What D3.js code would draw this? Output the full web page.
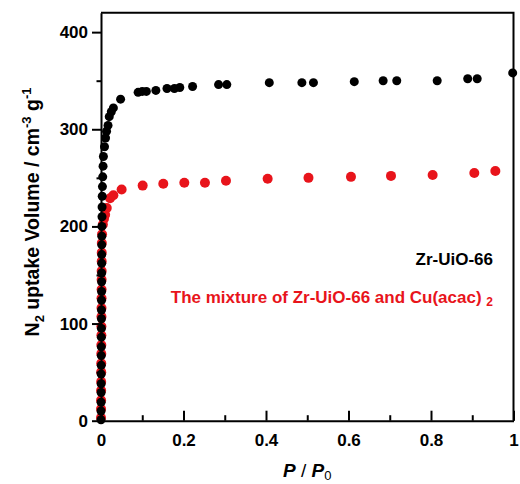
<!DOCTYPE html>
<html>
<head>
<meta charset="utf-8">
<script src="https://cdn.jsdelivr.net/npm/d3@7"></script>
<style>
  html, body { margin: 0; padding: 0; background: #fff; }
  svg text { font-family: "Liberation Sans", Arial, sans-serif; font-weight: bold; }
</style>
</head>
<body>
<svg id="chart" width="520" height="484"></svg>
<script>
// N2 adsorption isotherms (P/P0, uptake in cm^3 g^-1)
const zrUio66X = [0.0000, 0.0001, 0.0002, 0.0003, 0.0004, 0.0005, 0.0006, 0.0007, 0.0008, 0.0009,
  0.0010, 0.0011, 0.0012, 0.0013, 0.0014, 0.0015, 0.0016, 0.0017, 0.0018, 0.0019,
  0.0020, 0.0022, 0.0024, 0.0026, 0.0030, 0.0035, 0.0042, 0.0050, 0.0058, 0.0085,
  0.0110, 0.0135, 0.0170, 0.0200, 0.0250, 0.0300, 0.0475, 0.090, 0.100, 0.110,
  0.133, 0.160, 0.178, 0.191, 0.222, 0.285, 0.305, 0.408, 0.487, 0.515,
  0.614, 0.684, 0.717, 0.815, 0.889, 0.912, 0.998];
const zrUio66Y = [1, 10, 19, 29, 38, 48, 57, 67, 76, 86,
  95, 105, 114, 124, 133, 143, 152, 162, 171, 181,
  190, 200, 210, 220, 231, 241, 251, 262, 272, 282,
  291, 298, 304, 313, 318, 322, 331, 338, 339, 339,
  340, 342, 342, 343, 344, 346, 346, 348, 348, 348,
  349, 350, 350, 350, 352, 352, 358];

const mixtureX = [0.0000, 0.0001, 0.0002, 0.0003, 0.0004, 0.0005, 0.0006, 0.0007, 0.0008, 0.0009,
  0.0010, 0.0011, 0.0012, 0.0013, 0.0014, 0.0015, 0.0016, 0.0017, 0.0018, 0.0020,
  0.0025, 0.0045, 0.0072, 0.0100, 0.0140, 0.0220, 0.0300, 0.0500, 0.101, 0.151,
  0.202, 0.252, 0.303, 0.404, 0.503, 0.606, 0.703, 0.804, 0.905, 0.956];
const mixtureY = [3, 12, 21, 31, 40, 50, 59, 69, 78, 88,
  97, 107, 116, 126, 135, 145, 154, 164, 173, 183,
  192, 202, 208, 212, 219, 229, 232, 238, 242, 244,
  245, 245, 247, 249, 250, 251, 252, 253, 255, 257];

const xMajorTicks = [0, 0.2, 0.4, 0.6, 0.8, 1];
const xMinorTicks = [0.1, 0.3, 0.5, 0.7, 0.9];
const yMajorTicks = [0, 100, 200, 300, 400];
const yMinorTicks = [50, 150, 250, 350];

const seriesNames = ["Zr-UiO-66", "The mixture of Zr-UiO-66 and Cu(acac)"];
const seriesColors = ["#000000", "#e8141b"];

const svg = d3.select("#chart");
const plotLeft = 101, plotRight = 513.5, plotTop = 12.7, plotBottom = 420.7;

const x = d3.scaleLinear().domain([0, 1]).range([plotLeft, plotRight]);
const y = d3.scaleLinear().domain([0, 420]).range([plotBottom, plotTop]);

// points: mixture first so the pristine MOF sits on top in the steep region
const mixture = mixtureX.map((v, i) => [v, mixtureY[i]]);
const pristine = zrUio66X.map((v, i) => [v, zrUio66Y[i]]);

svg.append("g").selectAll("circle").data(mixture).join("circle")
  .attr("cx", d => x(d[0])).attr("cy", d => y(d[1])).attr("r", 5)
  .attr("fill", seriesColors[1]);
svg.append("g").selectAll("circle").data(pristine).join("circle")
  .attr("cx", d => x(d[0])).attr("cy", d => y(d[1])).attr("r", 4.5)
  .attr("fill", seriesColors[0]);

// frame: top and right edges
svg.append("path")
  .attr("d", `M${plotLeft},${plotTop}H${plotRight}V${plotBottom}`)
  .attr("fill", "none").attr("stroke", "#000").attr("stroke-width", 2);

function styleAxis(g) {
  g.select(".domain").attr("stroke-width", 2);
  g.selectAll(".tick line").attr("stroke-width", 2);
  g.selectAll(".tick text").attr("font-size", 17).attr("fill", "#000")
    .attr("font-family", "'Liberation Sans', Arial, sans-serif").attr("font-weight", "bold");
}

// x axis: ticks point inward
const gx = svg.append("g").attr("transform", `translate(0,${plotBottom})`)
  .call(d3.axisBottom(x).tickValues(xMajorTicks).tickFormat(d3.format("")).tickSizeInner(-10).tickSizeOuter(0).tickPadding(13));
styleAxis(gx);
svg.append("g").attr("transform", `translate(0,${plotBottom})`)
  .call(d3.axisBottom(x).tickValues(xMinorTicks).tickFormat("").tickSizeInner(-5.5).tickSizeOuter(0))
  .call(g => { g.select(".domain").remove(); g.selectAll(".tick line").attr("stroke-width", 2); });

// y axis: ticks point outward
const gy = svg.append("g").attr("transform", `translate(${plotLeft},0)`)
  .call(d3.axisLeft(y).tickValues(yMajorTicks).tickSizeInner(9).tickSizeOuter(0).tickPadding(4));
styleAxis(gy);
svg.append("g").attr("transform", `translate(${plotLeft},0)`)
  .call(d3.axisLeft(y).tickValues(yMinorTicks).tickFormat("").tickSizeInner(4.5).tickSizeOuter(0))
  .call(g => { g.select(".domain").remove(); g.selectAll(".tick line").attr("stroke-width", 2); });

// x axis title: P / P0
const xt = svg.append("text").attr("x", (plotLeft + plotRight) / 2).attr("y", 477)
  .attr("text-anchor", "middle").attr("font-size", 19).attr("fill", "#000");
xt.append("tspan").attr("font-style", "italic").text("P");
xt.append("tspan").attr("font-weight", "normal").text(" / ");
xt.append("tspan").attr("font-style", "italic").text("P");
xt.append("tspan").attr("font-size", 13).attr("font-weight", "normal").attr("dy", 3).text("0");

// y axis title
const yt = svg.append("text").attr("transform", "translate(39,212) rotate(-90)")
  .attr("text-anchor", "middle").attr("font-size", 19.5).attr("fill", "#000");
yt.append("tspan").text("N");
yt.append("tspan").attr("font-size", 13).attr("dy", 5).text("2");
yt.append("tspan").attr("dy", -5).text(" uptake Volume / cm");
yt.append("tspan").attr("font-size", 13).attr("dy", -8).text("-3");
yt.append("tspan").attr("dy", 8).text(" g");
yt.append("tspan").attr("font-size", 13).attr("dy", -8).text("-1");

// series labels
svg.append("text").attr("x", 493).attr("y", 265).attr("text-anchor", "end")
  .attr("font-size", 17).attr("fill", seriesColors[0]).text(seriesNames[0]);
const lt = svg.append("text").attr("x", 493).attr("y", 303).attr("text-anchor", "end")
  .attr("font-size", 17).attr("fill", seriesColors[1]);
lt.append("tspan").text(seriesNames[1] + " ");
lt.append("tspan").attr("font-size", 12).attr("dy", 3).text("2");
</script>
</body>
</html>
